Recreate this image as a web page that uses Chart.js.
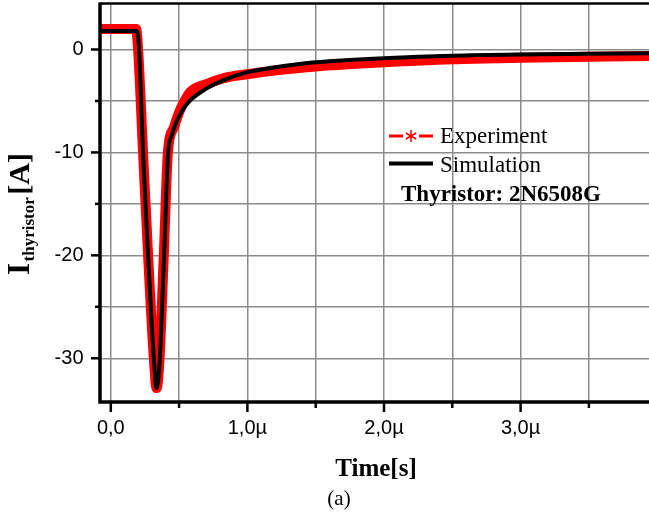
<!DOCTYPE html>
<html><head><meta charset="utf-8">
<script src="https://cdn.jsdelivr.net/npm/chart.js@4.4.0/dist/chart.umd.min.js"></script>
<style>html,body{margin:0;padding:0;background:#fff;}#wrap{width:649px;height:516px;}</style>
</head><body><div id="wrap"><canvas id="c" width="649" height="516"></canvas></div>
<script>
// ---- data (time in µs, current in A) ----
const simTime    = [-0.079, 0.19, 0.207, 0.236, 0.273, 0.315, 0.335, 0.359, 0.390, 0.420, 0.445, 0.475, 0.52, 0.578, 0.70, 0.822, 1.0, 1.19, 1.38, 1.6, 2.0, 2.5, 3.0, 3.5, 3.94];
const simCurrent = [1.8, 1.8, 0.0, -10, -20, -30, -32.9, -30, -20, -10, -8.4, -7.2, -6.0, -5.0, -3.8, -3.0, -2.2, -1.75, -1.4, -1.15, -0.85, -0.6, -0.48, -0.42, -0.37];
const expTime    = [-0.079, 0.185, 0.20, 0.236, 0.273, 0.315, 0.335, 0.357, 0.388, 0.418, 0.461, 0.50, 0.54, 0.583, 0.70, 0.822, 1.0, 1.2, 1.5, 2.0, 2.5, 3.0, 3.5, 3.94];
const expCurrent = [2.0, 2.0, 0.0, -10, -20, -30, -32.9, -30, -20, -10, -7.6, -6.1, -5.0, -4.1, -3.36, -2.8, -2.4, -2.05, -1.65, -1.25, -0.95, -0.8, -0.7, -0.62];
const xTickValues = [0, 1, 2, 3];
const xTickLabels = ['0,0', '1,0µ', '2,0µ', '3,0µ'];
const yTickValues = [0, -10, -20, -30];
const yTickLabels = ['0', '-10', '-20', '-30'];
const seriesNames = ['Experiment', 'Simulation'];
const annotationText = 'Thyristor: 2N6508G';
const xTitle = 'Time[s]';
const yTitleMain = 'I', yTitleSub = 'thyristor', yTitleUnit = '[A]';
const captionText = '(a)';

const SERIF = '"Liberation Serif","Times New Roman",serif';
const SANS = '"Liberation Sans",Arial,sans-serif';

const decor = {
  id: 'decor',
  beforeDraw(chart) {
    const ctx = chart.ctx;
    ctx.save(); ctx.fillStyle = '#fff'; ctx.fillRect(0, 0, chart.width, chart.height); ctx.restore();
  },
  afterDraw(chart) {
    const ctx = chart.ctx, a = chart.chartArea;
    const xs = chart.scales.x, ys = chart.scales.y;
    ctx.save();
    ctx.strokeStyle = '#000';
    ctx.lineWidth = 2.5;
    ctx.beginPath(); ctx.moveTo(a.left, a.top); ctx.lineTo(a.right, a.top); ctx.stroke();
    ctx.lineWidth = 3.5;
    ctx.beginPath(); ctx.moveTo(a.left, a.top - 1); ctx.lineTo(a.left, a.bottom); ctx.lineTo(a.right, a.bottom); ctx.stroke();
    ctx.lineWidth = 2.5;
    xs.ticks.forEach(t => {
      const px = xs.getPixelForValue(t.value);
      const major = xTickValues.includes(t.value);
      ctx.beginPath(); ctx.moveTo(px, a.bottom); ctx.lineTo(px, a.bottom + (major ? 10 : 6)); ctx.stroke();
    });
    ys.ticks.forEach(t => {
      const py = ys.getPixelForValue(t.value);
      const major = yTickValues.includes(t.value);
      ctx.beginPath(); ctx.moveTo(a.left, py); ctx.lineTo(a.left - (major ? 9 : 5), py); ctx.stroke();
    });
    ctx.fillStyle = '#000';
    ctx.font = 'bold 25px ' + SERIF;
    ctx.textAlign = 'center'; ctx.textBaseline = 'alphabetic';
    ctx.fillText(xTitle, 376, 476);
    ctx.font = '21px ' + SERIF;
    ctx.fillText(captionText, 339, 505);
    // rotated y title
    ctx.save();
    ctx.translate(29, 275);
    ctx.rotate(-Math.PI / 2);
    ctx.textAlign = 'left';
    ctx.font = 'bold 31px ' + SERIF;
    ctx.fillText(yTitleMain, 0, 0);
    let w = ctx.measureText(yTitleMain).width + 1.5;
    ctx.font = 'bold 17px ' + SERIF;
    ctx.fillText(yTitleSub, w, 5);
    w += ctx.measureText(yTitleSub).width + 2.5;
    ctx.font = 'bold 30px ' + SERIF;
    ctx.fillText(yTitleUnit, w, 0);
    ctx.restore();
    // legend
    ctx.textAlign = 'left';
    ctx.strokeStyle = '#ff0000'; ctx.lineWidth = 3;
    ctx.beginPath(); ctx.moveTo(389, 136); ctx.lineTo(403, 136); ctx.moveTo(419, 136); ctx.lineTo(433, 136); ctx.stroke();
    ctx.lineWidth = 1.5;
    ctx.beginPath();
    for (let k = 0; k < 3; k++) {
      const ang = Math.PI / 2 + k * Math.PI / 3;
      ctx.moveTo(411 + 6 * Math.cos(ang), 136 + 6 * Math.sin(ang));
      ctx.lineTo(411 - 6 * Math.cos(ang), 136 - 6 * Math.sin(ang));
    }
    ctx.stroke();
    ctx.strokeStyle = '#000'; ctx.lineWidth = 4;
    ctx.beginPath(); ctx.moveTo(389, 163.5); ctx.lineTo(433, 163.5); ctx.stroke();
    ctx.font = '23px ' + SERIF;
    ctx.fillText(seriesNames[0], 440, 143);
    ctx.fillText(seriesNames[1], 440, 171.5);
    ctx.font = 'bold 23px ' + SERIF;
    ctx.fillText(annotationText, 401, 200.5);
    ctx.restore();
  }
};

const toPts = (xs, ys) => xs.map((t, i) => ({ x: t, y: ys[i] }));
const zeroPad = s => { s.paddingTop = 0; s.paddingBottom = 0; s.paddingLeft = 0; s.paddingRight = 0; };

new Chart(document.getElementById('c'), {
  type: 'scatter',
  data: {
    datasets: [
      { label: seriesNames[1], data: toPts(simTime, simCurrent), showLine: true, borderColor: '#000', borderWidth: 4,
        pointRadius: 0, cubicInterpolationMode: 'monotone', order: 0 },
      { label: seriesNames[0], data: toPts(expTime, expCurrent), showLine: true, borderColor: '#ff0000', borderWidth: 10,
        pointRadius: 0, cubicInterpolationMode: 'monotone', order: 1 }
    ]
  },
  options: {
    responsive: false, animation: false, devicePixelRatio: 1,
    layout: { padding: { top: 3.5, left: 0, right: 0, bottom: 0 } },
    plugins: { legend: { display: false }, tooltip: { enabled: false } },
    scales: {
      x: {
        type: 'linear', min: -0.079, max: 3.94,
        afterFit(s) { s.height = 114; zeroPad(s); },
        ticks: { stepSize: 0.5, includeBounds: false, autoSkip: false, maxRotation: 0, padding: 14,
          color: '#000', font: { family: SANS, size: 20 },
          callback(v) { const i = xTickValues.indexOf(v); return i >= 0 ? xTickLabels[i] : ''; } },
        grid: { color: '#8c8c8c', lineWidth: 1.5, drawTicks: false },
        border: { display: false }
      },
      y: {
        type: 'linear', min: -34.25, max: 4.47,
        afterFit(s) { s.width = 100; zeroPad(s); },
        ticks: { stepSize: 5, includeBounds: false, autoSkip: false, padding: 16.5,
          color: '#000', font: { family: SANS, size: 20 },
          callback(v) { const i = yTickValues.indexOf(v); return i >= 0 ? yTickLabels[i] : ''; } },
        grid: { color: '#8c8c8c', lineWidth: 1.5, drawTicks: false },
        border: { display: false }
      }
    }
  },
  plugins: [decor]
});
</script></body></html>
